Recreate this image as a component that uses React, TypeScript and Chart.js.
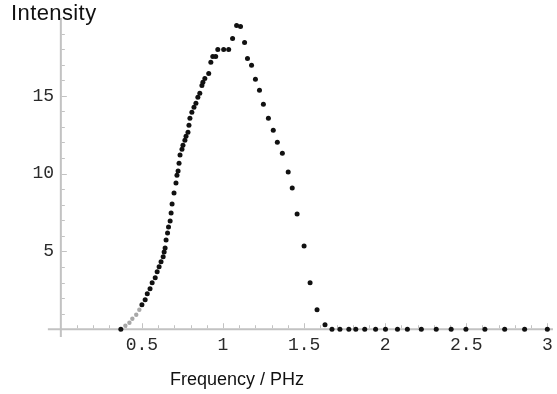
import React, { useEffect, useRef } from "react";
import { Chart, registerables } from "chart.js";

Chart.register(...registerables);

// Measured spectrum (frequency in PHz, intensity in arbitrary units)
const frequency = [
  0.37, 0.5, 0.52, 0.533, 0.55, 0.563, 0.582, 0.594, 0.606, 0.618, 0.631, 0.637,
  0.643, 0.649, 0.658, 0.664, 0.674, 0.68, 0.686, 0.698, 0.71, 0.716, 0.723, 0.729,
  0.735, 0.747, 0.753, 0.765, 0.772, 0.784, 0.79, 0.796, 0.808, 0.821, 0.833, 0.845,
  0.857, 0.87, 0.876, 0.888, 0.912, 0.925, 0.937, 0.955, 0.968, 1.004, 1.035, 1.059,
  1.084, 1.108, 1.133, 1.151, 1.176, 1.2, 1.225, 1.249, 1.28, 1.31, 1.335, 1.366,
  1.402, 1.427, 1.457, 1.5, 1.537, 1.58, 1.629, 1.672, 1.721, 1.776, 1.819, 1.874,
  1.941, 2.002, 2.076, 2.137, 2.223, 2.315, 2.407, 2.498, 2.615, 2.737, 2.86, 3.0,
];
const intensity = [
  0, 1.57, 1.89, 2.28, 2.6, 2.98, 3.3, 3.69, 4.01, 4.33, 4.65, 4.97,
  5.22, 5.74, 6.19, 6.57, 6.96, 7.47, 8.04, 8.75, 9.39, 9.9, 10.16, 10.67,
  11.19, 11.57, 11.83, 12.15, 12.4, 12.66, 13.11, 13.56, 13.94, 14.26, 14.52, 14.9,
  15.16, 15.67, 15.87, 16.12, 16.44, 17.15, 17.53, 17.53, 17.98, 17.98, 17.98, 18.69,
  19.52, 19.46, 18.43, 17.4, 16.96, 16.06, 15.35, 14.46, 13.56, 12.79, 12.02, 11.31,
  10.1, 9.07, 7.4, 5.35, 2.98, 1.25, 0.29, 0, 0, 0, 0, 0,
  0, 0, 0, 0, 0, 0, 0, 0, 0, 0, 0, 0,
];
// Faint (grey) markers at the foot of the rising edge
const faintFrequency = [0.398, 0.423, 0.441, 0.465, 0.484];
const faintIntensity = [0.22, 0.42, 0.67, 0.93, 1.25];

// Axis ticks
const xTickLabels = ["0.5", "1", "1.5", "2", "2.5", "3"];
const xTickValues = [0.5, 1, 1.5, 2, 2.5, 3];
const yTickLabels = ["5", "10", "15"];
const yTickValues = [5, 10, 15];
const xMinorTicks = [
  0.1, 0.2, 0.3, 0.4, 0.5, 0.6, 0.7, 0.8, 0.9, 1, 1.1, 1.2, 1.3, 1.4, 1.5,
  1.6, 1.7, 1.8, 1.9, 2, 2.1, 2.2, 2.3, 2.4, 2.5, 2.6, 2.7, 2.8, 2.9, 3,
];
const yMinorTicks = [1, 2, 3, 4, 5, 6, 7, 8, 9, 10, 11, 12, 13, 14, 15, 16, 17, 18, 19];
const xAxisStart = -0.08; // where the horizontal axis line begins

const AXIS_COLOR = "#c2c2c2";
const TICK_FONT = "'Liberation Mono', 'Courier New', monospace";

export default function App() {
  const ref = useRef<HTMLCanvasElement>(null);

  useEffect(() => {
    if (!ref.current) return;

    const axesPlugin = {
      id: "mathematicaAxes",
      beforeDatasetsDraw(chart: any) {
        const { ctx, chartArea, scales } = chart;
        const xs = scales.x;
        const ys = scales.y;
        const x0 = xs.getPixelForValue(0);
        const y0 = ys.getPixelForValue(0);
        ctx.save();
        ctx.strokeStyle = AXIS_COLOR;
        ctx.lineWidth = 2;
        ctx.beginPath();
        ctx.moveTo(x0, chartArea.top);
        ctx.lineTo(x0, chartArea.bottom);
        ctx.moveTo(xs.getPixelForValue(xAxisStart), y0);
        ctx.lineTo(chartArea.right, y0);
        ctx.stroke();
        ctx.lineWidth = 1;
        ctx.beginPath();
        for (const t of xs.ticks) {
          const px = Math.round(xs.getPixelForValue(t.value)) + 0.5;
          const len = xTickValues.includes(t.value) ? 5 : 3;
          ctx.moveTo(px, y0 - 1);
          ctx.lineTo(px, y0 - 1 - len);
        }
        for (const t of ys.ticks) {
          const py = Math.round(ys.getPixelForValue(t.value)) + 0.5;
          const len = yTickValues.includes(t.value) ? 5 : 3;
          ctx.moveTo(x0 + 1, py);
          ctx.lineTo(x0 + 1 + len, py);
        }
        ctx.stroke();
        ctx.restore();
      },
    };

    const chart = new Chart(ref.current, {
      type: "scatter",
      data: {
        datasets: [
          {
            data: faintFrequency.map((f, i) => ({ x: f, y: faintIntensity[i] })),
            pointRadius: 2.2,
            pointBackgroundColor: "#a8a8a8",
            pointBorderWidth: 0,
          },
          {
            data: frequency.map((f, i) => ({ x: f, y: intensity[i] })),
            pointRadius: 2.5,
            pointBackgroundColor: "#111111",
            pointBorderWidth: 0,
          },
        ],
      },
      options: {
        responsive: false,
        devicePixelRatio: 1,
        animation: false,
        layout: { padding: { top: 18, bottom: 57, left: 0, right: 0 } },
        plugins: { legend: { display: false }, tooltip: { enabled: false } },
        scales: {
          x: {
            type: "linear",
            min: -0.036,
            max: 3.035,
            position: { y: 0 } as any,
            afterBuildTicks: (s: any) => {
              s.ticks = xMinorTicks.map((v) => ({ value: v }));
            },
            afterFit: (s: any) => {
              s.paddingLeft = 0;
              s.paddingRight = 0;
              s.paddingTop = 0;
              s.paddingBottom = 0;
            },
            grid: { display: false, drawTicks: false },
            border: { display: false },
            ticks: {
              autoSkip: false,
              maxRotation: 0,
              padding: 5,
              color: "#2a2a2a",
              font: { family: TICK_FONT, size: 18 },
              callback: (v: any) => {
                const i = xTickValues.indexOf(Number(v));
                return i >= 0 ? xTickLabels[i] : "";
              },
            },
          },
          y: {
            type: "linear",
            min: -0.5,
            max: 20,
            position: "left",
            afterBuildTicks: (s: any) => {
              s.ticks = yMinorTicks.map((v) => ({ value: v }));
            },
            afterFit: (s: any) => {
              s.width = 55;
              s.paddingTop = 0;
              s.paddingBottom = 0;
            },
            grid: { display: false, drawTicks: false },
            border: { display: false },
            ticks: {
              autoSkip: false,
              padding: 1,
              color: "#2a2a2a",
              font: { family: TICK_FONT, size: 18 },
              callback: (v: any) => {
                const i = yTickValues.indexOf(Number(v));
                return i >= 0 ? yTickLabels[i] : "";
              },
            },
          },
        },
      },
      plugins: [axesPlugin],
    } as any);

    return () => chart.destroy();
  }, []);

  return (
    <div
      style={{
        position: "fixed",
        left: 0,
        top: 0,
        width: 557,
        height: 394,
        background: "#fff",
        overflow: "hidden",
      }}
    >
      <canvas ref={ref} width={557} height={394} style={{ position: "absolute", left: 0, top: 0 }} />
      <div
        style={{
          position: "absolute",
          left: 11,
          top: 0,
          fontFamily: "'Liberation Sans', Arial, sans-serif",
          fontSize: 22,
          letterSpacing: 0.4,
          lineHeight: "26px",
          color: "#111",
        }}
      >
        Intensity
      </div>
      <div
        style={{
          position: "absolute",
          left: 170,
          top: 367,
          fontFamily: "'Liberation Sans', Arial, sans-serif",
          fontSize: 18,
          lineHeight: "24px",
          color: "#111",
          whiteSpace: "nowrap",
        }}
      >
        Frequency / PHz
      </div>
    </div>
  );
}
